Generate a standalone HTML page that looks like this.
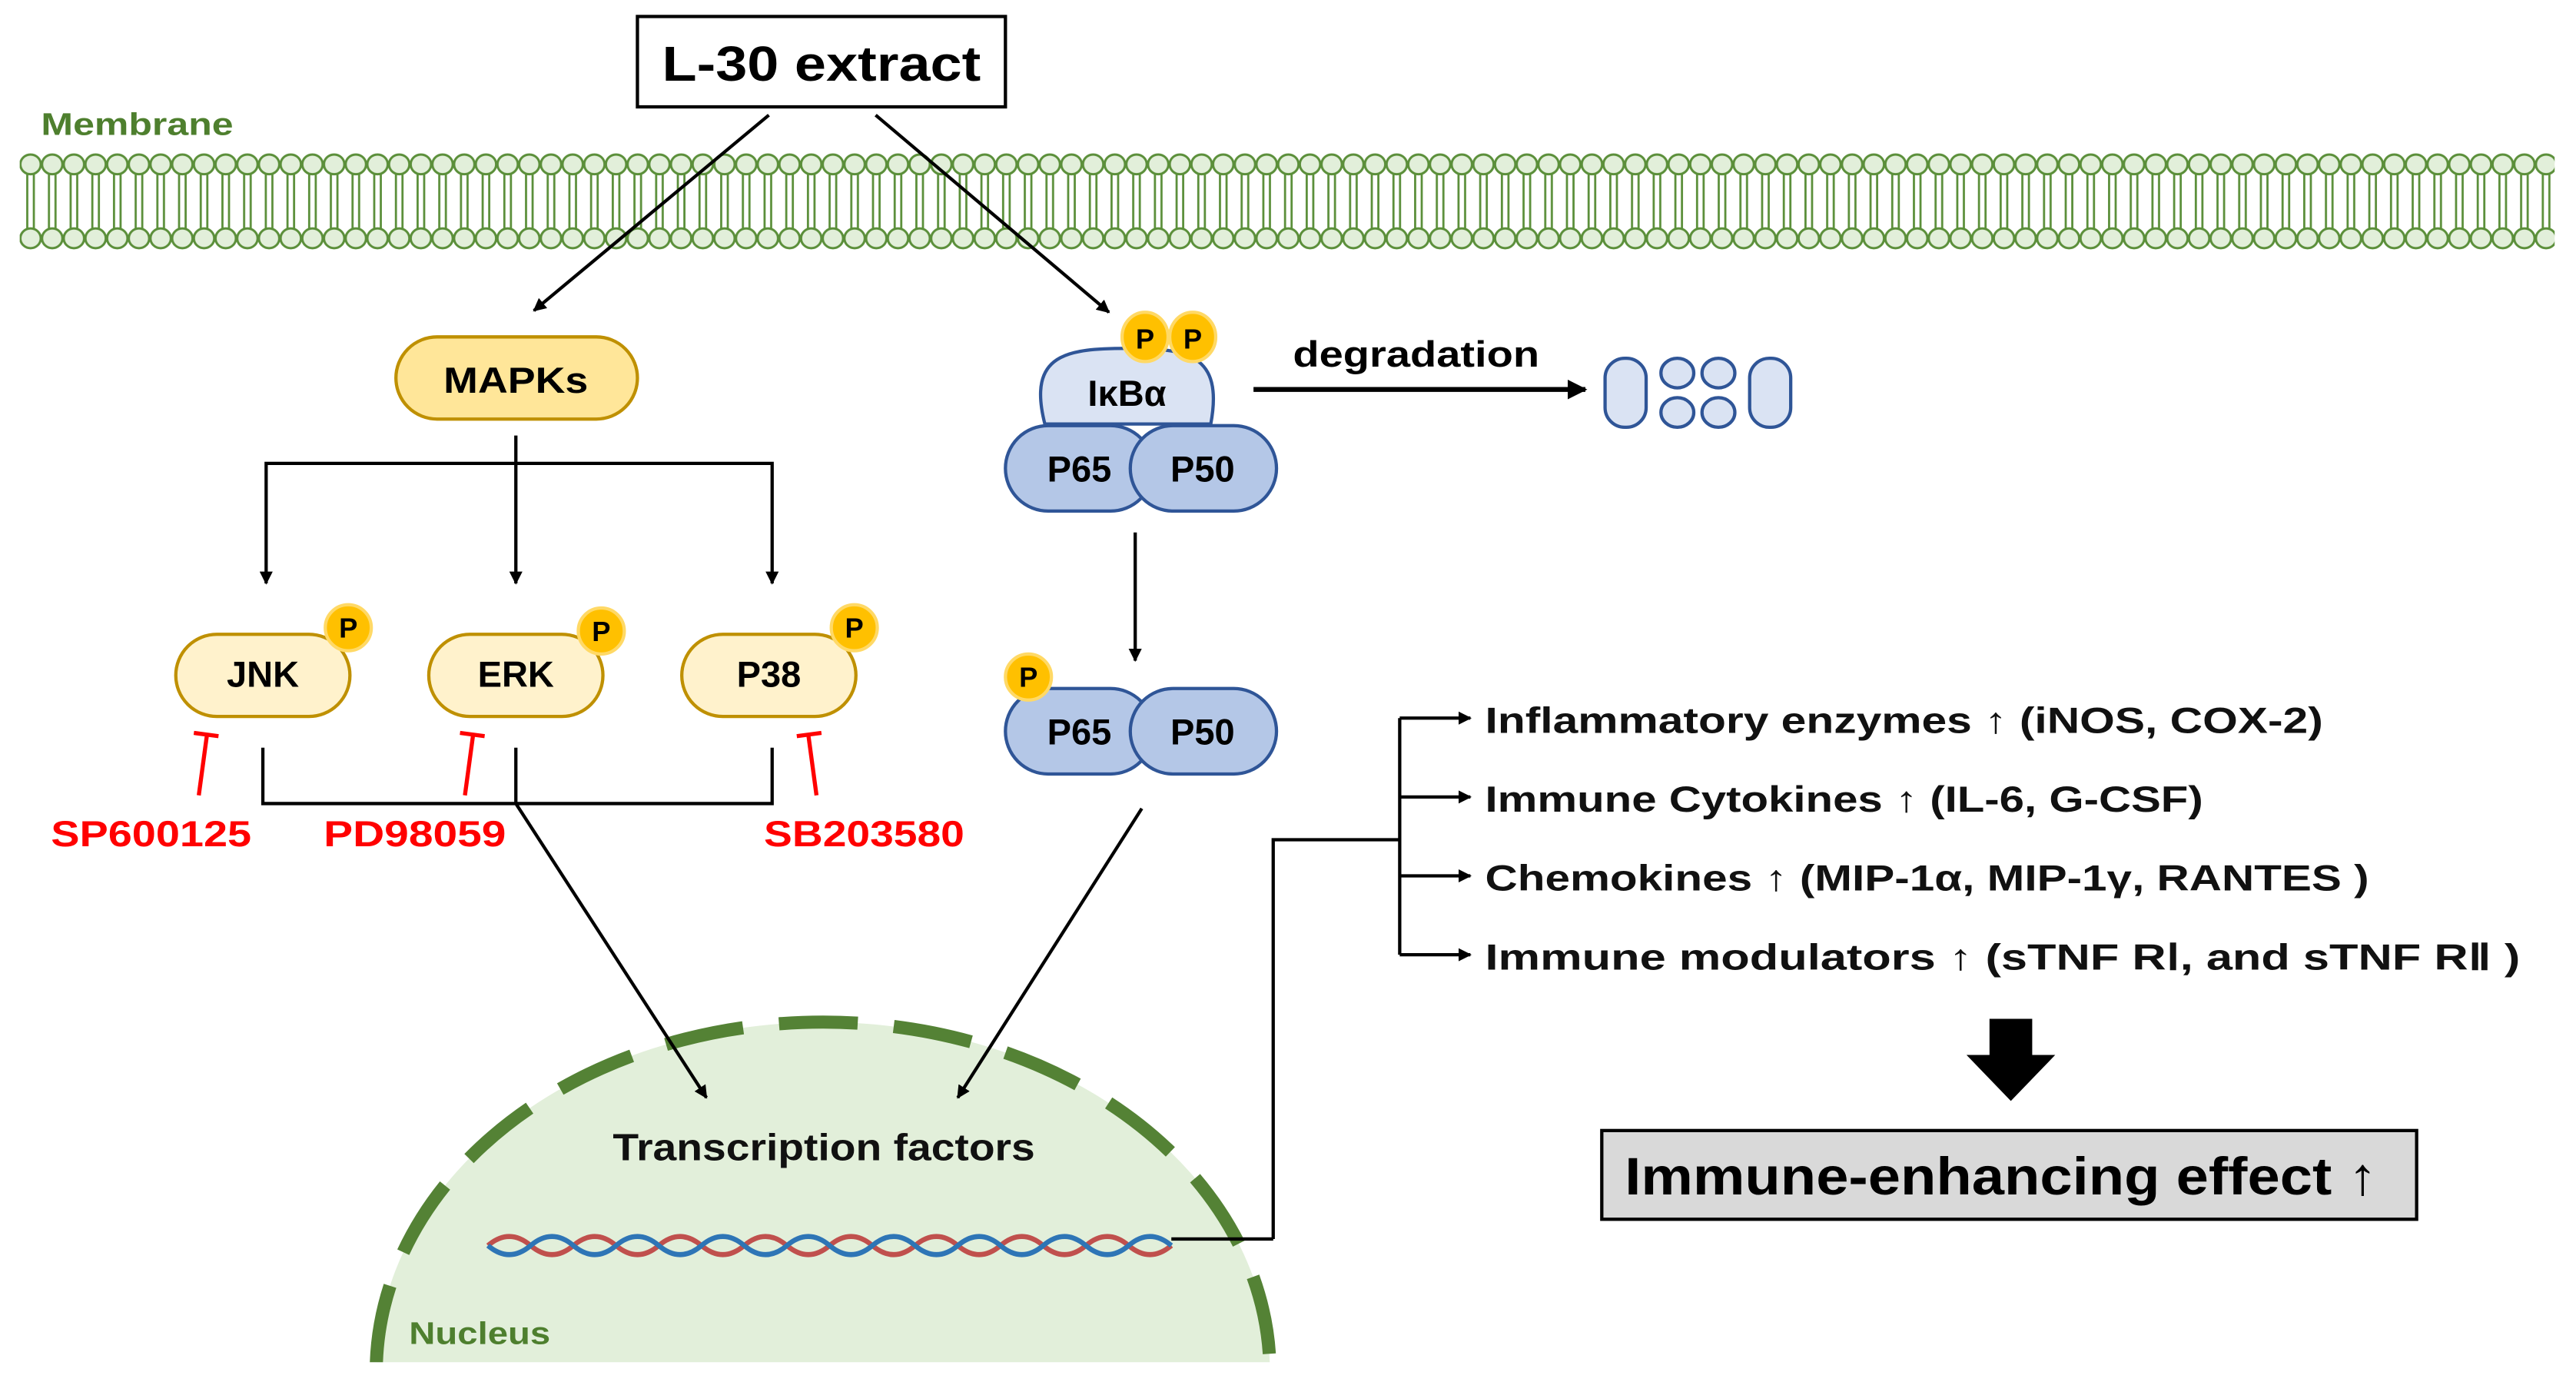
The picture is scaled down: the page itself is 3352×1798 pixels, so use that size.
<!DOCTYPE html>
<html><head><meta charset="utf-8"><style>
html,body{margin:0;padding:0;background:#fff;overflow:hidden;width:3352px;height:1798px;position:relative}
svg{display:block;position:absolute;left:0;top:0}
text{font-family:"Liberation Sans",sans-serif;font-weight:bold}
</style></head><body>
<svg width="3352" height="1798" viewBox="0 0 1568 841" xmlns="http://www.w3.org/2000/svg">
<defs>
<marker id="a" viewBox="0 0 10 10" refX="9" refY="5" markerWidth="4" markerHeight="4" orient="auto"><path d="M0,0L10,5L0,10z" fill="#000"/></marker>
<pattern id="mem" x="12" y="0" width="13.2" height="841" patternUnits="userSpaceOnUse">
<line x1="4.6" y1="106" x2="4.6" y2="140" stroke="#5b8f3a" stroke-width="1.3"/>
<line x1="8.6" y1="106" x2="8.6" y2="140" stroke="#5b8f3a" stroke-width="1.3"/>
<ellipse cx="6.6" cy="100" rx="6.2" ry="6" fill="#e2efda" stroke="#5b8f3a" stroke-width="1.4"/>
<ellipse cx="6.6" cy="145" rx="6.2" ry="6" fill="#e2efda" stroke="#5b8f3a" stroke-width="1.4"/>
</pattern>
<clipPath id="nc"><rect x="0" y="0" width="1568" height="829"/></clipPath>
</defs>
<rect width="1568" height="841" fill="#fff"/>
<text x="25" y="82" font-size="19" fill="#4e7f2e" textLength="117" lengthAdjust="spacingAndGlyphs">Membrane</text>
<rect x="12" y="90" width="1543" height="63" fill="url(#mem)"/>

<g clip-path="url(#nc)">
<ellipse cx="501" cy="835" rx="272" ry="213" fill="#e2efda" stroke="#548235" stroke-width="8" stroke-dasharray="48,22"/>
</g>
<text x="249" y="818" font-size="19" fill="#4e7f2e" textLength="86" lengthAdjust="spacingAndGlyphs">Nucleus</text>
<text x="373" y="706" font-size="23" fill="#111" textLength="257" lengthAdjust="spacingAndGlyphs">Transcription  factors</text>
<g stroke-width="3" fill="none">
<path d="M297,758 q13,-11 26,0 t26,0 t26,0 t26,0 t26,0 t26,0 t26,0 t26,0 t26,0 t26,0 t26,0 t26,0 t26,0 t26,0 t26,0 t26,0" stroke="#c0504d"/>
<path d="M297,758 q13,11 26,0 t26,0 t26,0 t26,0 t26,0 t26,0 t26,0 t26,0 t26,0 t26,0 t26,0 t26,0 t26,0 t26,0 t26,0 t26,0" stroke="#2e75b6"/>
</g>
<line x1="713" y1="754" x2="775" y2="754" stroke="#000" stroke-width="2"/>

<rect x="388" y="10" width="224" height="55" fill="#fff" stroke="#000" stroke-width="2"/>
<text x="403" y="49" font-size="30" textLength="194" lengthAdjust="spacingAndGlyphs">L-30 extract</text>
<g stroke="#000" stroke-width="2" fill="none" marker-end="url(#a)">
<line x1="468" y1="70" x2="325" y2="189"/>
<line x1="533" y1="70" x2="675" y2="190"/>
</g>

<rect x="241" y="205" width="147" height="50" rx="25" fill="#ffe699" stroke="#bf9000" stroke-width="2"/>
<text x="270" y="239" font-size="22" textLength="88" lengthAdjust="spacingAndGlyphs">MAPKs</text>
<g stroke="#000" stroke-width="2" fill="none">
<polyline points="162,283 162,355" marker-end="url(#a)"/>
<polyline points="314,265 314,355" marker-end="url(#a)"/>
<polyline points="470,283 470,355" marker-end="url(#a)"/>
<line x1="161" y1="282" x2="471" y2="282"/>
<polyline points="160,455 160,489 470,489 470,455"/>
<line x1="314" y1="455" x2="314" y2="489"/>
<line x1="314" y1="489" x2="430" y2="668" marker-end="url(#a)"/>
<line x1="695" y1="492" x2="583" y2="668" marker-end="url(#a)"/>
<line x1="691" y1="324" x2="691" y2="402" marker-end="url(#a)"/>
<line x1="763" y1="237" x2="965" y2="237" stroke-width="3" marker-end="url(#a)"/>
</g>
<g font-size="22" text-anchor="middle">
<rect x="107" y="386" width="106" height="50" rx="25" fill="#fff2cc" stroke="#bf9000" stroke-width="2"/>
<text x="160" y="418">JNK</text>
<rect x="261" y="386" width="106" height="50" rx="25" fill="#fff2cc" stroke="#bf9000" stroke-width="2"/>
<text x="314" y="418">ERK</text>
<rect x="415" y="386" width="106" height="50" rx="25" fill="#fff2cc" stroke="#bf9000" stroke-width="2"/>
<text x="468" y="418">P38</text>
</g>
<g font-size="17" text-anchor="middle">
<circle cx="212" cy="382" r="14" fill="#ffc000" stroke="#ffd966" stroke-width="2"/><text x="212" y="388">P</text>
<circle cx="366" cy="384" r="14" fill="#ffc000" stroke="#ffd966" stroke-width="2"/><text x="366" y="390">P</text>
<circle cx="520" cy="382" r="14" fill="#ffc000" stroke="#ffd966" stroke-width="2"/><text x="520" y="388">P</text>
</g>
<g stroke="#ff0000" stroke-width="2.5">
<line x1="121" y1="484" x2="126" y2="447"/><line x1="118" y1="446" x2="133" y2="448"/>
<line x1="283" y1="484" x2="288" y2="447"/><line x1="280" y1="446" x2="295" y2="448"/>
<line x1="497" y1="484" x2="492" y2="447"/><line x1="485" y1="448" x2="500" y2="446"/>
</g>
<g font-size="22" fill="#ff0000">
<text x="31" y="515" textLength="122" lengthAdjust="spacingAndGlyphs">SP600125</text>
<text x="197" y="515" textLength="111" lengthAdjust="spacingAndGlyphs">PD98059</text>
<text x="465" y="515" textLength="122" lengthAdjust="spacingAndGlyphs">SB203580</text>
</g>

<path d="M636,258 C625,215 650,212 686,212 C722,212 745,215 737,258 Z" fill="#dae3f3" stroke="#2f5597" stroke-width="2"/>
<text x="686" y="247" font-size="22" text-anchor="middle">IκBα</text>
<rect x="612" y="259" width="90" height="52" rx="26" fill="#b4c7e7" stroke="#2f5597" stroke-width="2"/>
<rect x="688" y="259" width="89" height="52" rx="26" fill="#b4c7e7" stroke="#2f5597" stroke-width="2"/>
<text x="657" y="293" font-size="22" text-anchor="middle">P65</text>
<text x="732" y="293" font-size="22" text-anchor="middle">P50</text>
<ellipse cx="697" cy="205" rx="14" ry="15" fill="#ffc000" stroke="#ffd966" stroke-width="2"/>
<ellipse cx="726" cy="205" rx="14" ry="15" fill="#ffc000" stroke="#ffd966" stroke-width="2"/>
<text x="697" y="212" font-size="17" text-anchor="middle">P</text>
<text x="726" y="212" font-size="17" text-anchor="middle">P</text>
<text x="787" y="223" font-size="22" textLength="150" lengthAdjust="spacingAndGlyphs">degradation</text>
<g fill="#dae3f3" stroke="#2f5597" stroke-width="2">
<rect x="977" y="218" width="25" height="42" rx="12"/>
<rect x="1065" y="218" width="25" height="42" rx="12"/>
<ellipse cx="1021" cy="227" rx="10" ry="9"/><ellipse cx="1021" cy="251" rx="10" ry="9"/>
<ellipse cx="1046" cy="227" rx="10" ry="9"/><ellipse cx="1046" cy="251" rx="10" ry="9"/>
</g>

<rect x="612" y="419" width="90" height="52" rx="26" fill="#b4c7e7" stroke="#2f5597" stroke-width="2"/>
<rect x="688" y="419" width="89" height="52" rx="26" fill="#b4c7e7" stroke="#2f5597" stroke-width="2"/>
<text x="657" y="453" font-size="22" text-anchor="middle">P65</text>
<text x="732" y="453" font-size="22" text-anchor="middle">P50</text>
<circle cx="626" cy="412" r="14" fill="#ffc000" stroke="#ffd966" stroke-width="2"/>
<text x="626" y="418" font-size="17" text-anchor="middle">P</text>

<g stroke="#000" stroke-width="2" fill="none">
<polyline points="775,754 775,511 852,511"/>
<line x1="852" y1="437" x2="852" y2="581"/>
<line x1="852" y1="437" x2="895" y2="437" marker-end="url(#a)"/>
<line x1="852" y1="485" x2="895" y2="485" marker-end="url(#a)"/>
<line x1="852" y1="533" x2="895" y2="533" marker-end="url(#a)"/>
<line x1="852" y1="581" x2="895" y2="581" marker-end="url(#a)"/>
</g>
<g font-size="22" fill="#111">
<text x="904" y="446" textLength="510" lengthAdjust="spacingAndGlyphs">Inflammatory enzymes ↑ (iNOS, COX-2)</text>
<text x="904" y="494" textLength="437" lengthAdjust="spacingAndGlyphs">Immune Cytokines ↑ (IL-6, G-CSF)</text>
<text x="904" y="542" textLength="538" lengthAdjust="spacingAndGlyphs">Chemokines ↑ (MIP-1α, MIP-1γ, RANTES )</text>
<text x="904" y="590" textLength="630" lengthAdjust="spacingAndGlyphs">Immune modulators ↑ (sTNF RⅠ, and sTNF RⅡ )</text>
</g>
<path d="M1211,620 h26 v22 h14 l-27,28 l-27,-28 h14 z" fill="#000"/>
<rect x="975" y="688" width="496" height="54" fill="#d9d9d9" stroke="#000" stroke-width="2"/>
<text x="989" y="727" font-size="32" textLength="458" lengthAdjust="spacingAndGlyphs">Immune-enhancing effect ↑</text>
</svg>
</body></html>
